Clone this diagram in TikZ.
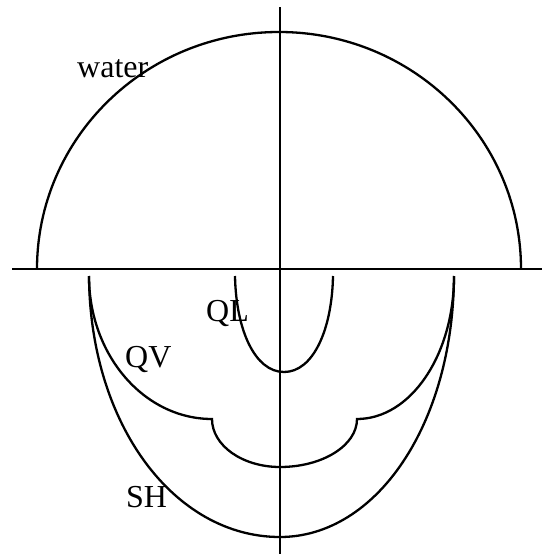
\documentclass[tikz,border=0pt]{standalone}
\usepackage{fontspec}
\setmainfont{Liberation Serif}
\usepackage{tikz}

\tikzset{
  curve/.style={line width=2.3pt, black},
  lbl/.style={inner sep=0pt, anchor=base west, font=\fontsize{32}{32}\selectfont}
}

\begin{document}
\begin{tikzpicture}[x=1pt, y=-1pt]
\useasboundingbox (0,0) rectangle (542,554);
\draw[curve] (12,269) -- (542,269);
\draw[curve] (280,7) -- (280,554);
\draw[curve] (37,269) .. controls (37,138.1) and (145.3,32) .. (279,32) .. controls (412.7,32) and (521,138.1) .. (521,269);
\draw[curve] (235,276) .. controls (236,330) and (255,372) .. (284,372) .. controls (313,372) and (332,330) .. (333,276);
\draw[curve] (89,276) .. controls (89,355) and (144,419) .. (212,419) .. controls (212,445.5) and (242.4,467) .. (280,467) .. controls (322.5,467) and (357,445.5) .. (357,419) .. controls (410.6,419) and (454,355) .. (454,276);
\draw[curve] (89,276) .. controls (90,425) and (174.5,537) .. (280,537) .. controls (376,537) and (453,425) .. (454,276);
\node[lbl] (water) at (77,77) {water};
\node[lbl] (ql) at (206,321) {QL};
\node[lbl] (qv) at (125,367) {QV};
\node[lbl] (sh) at (126,507) {SH};
\end{tikzpicture}
\end{document}
